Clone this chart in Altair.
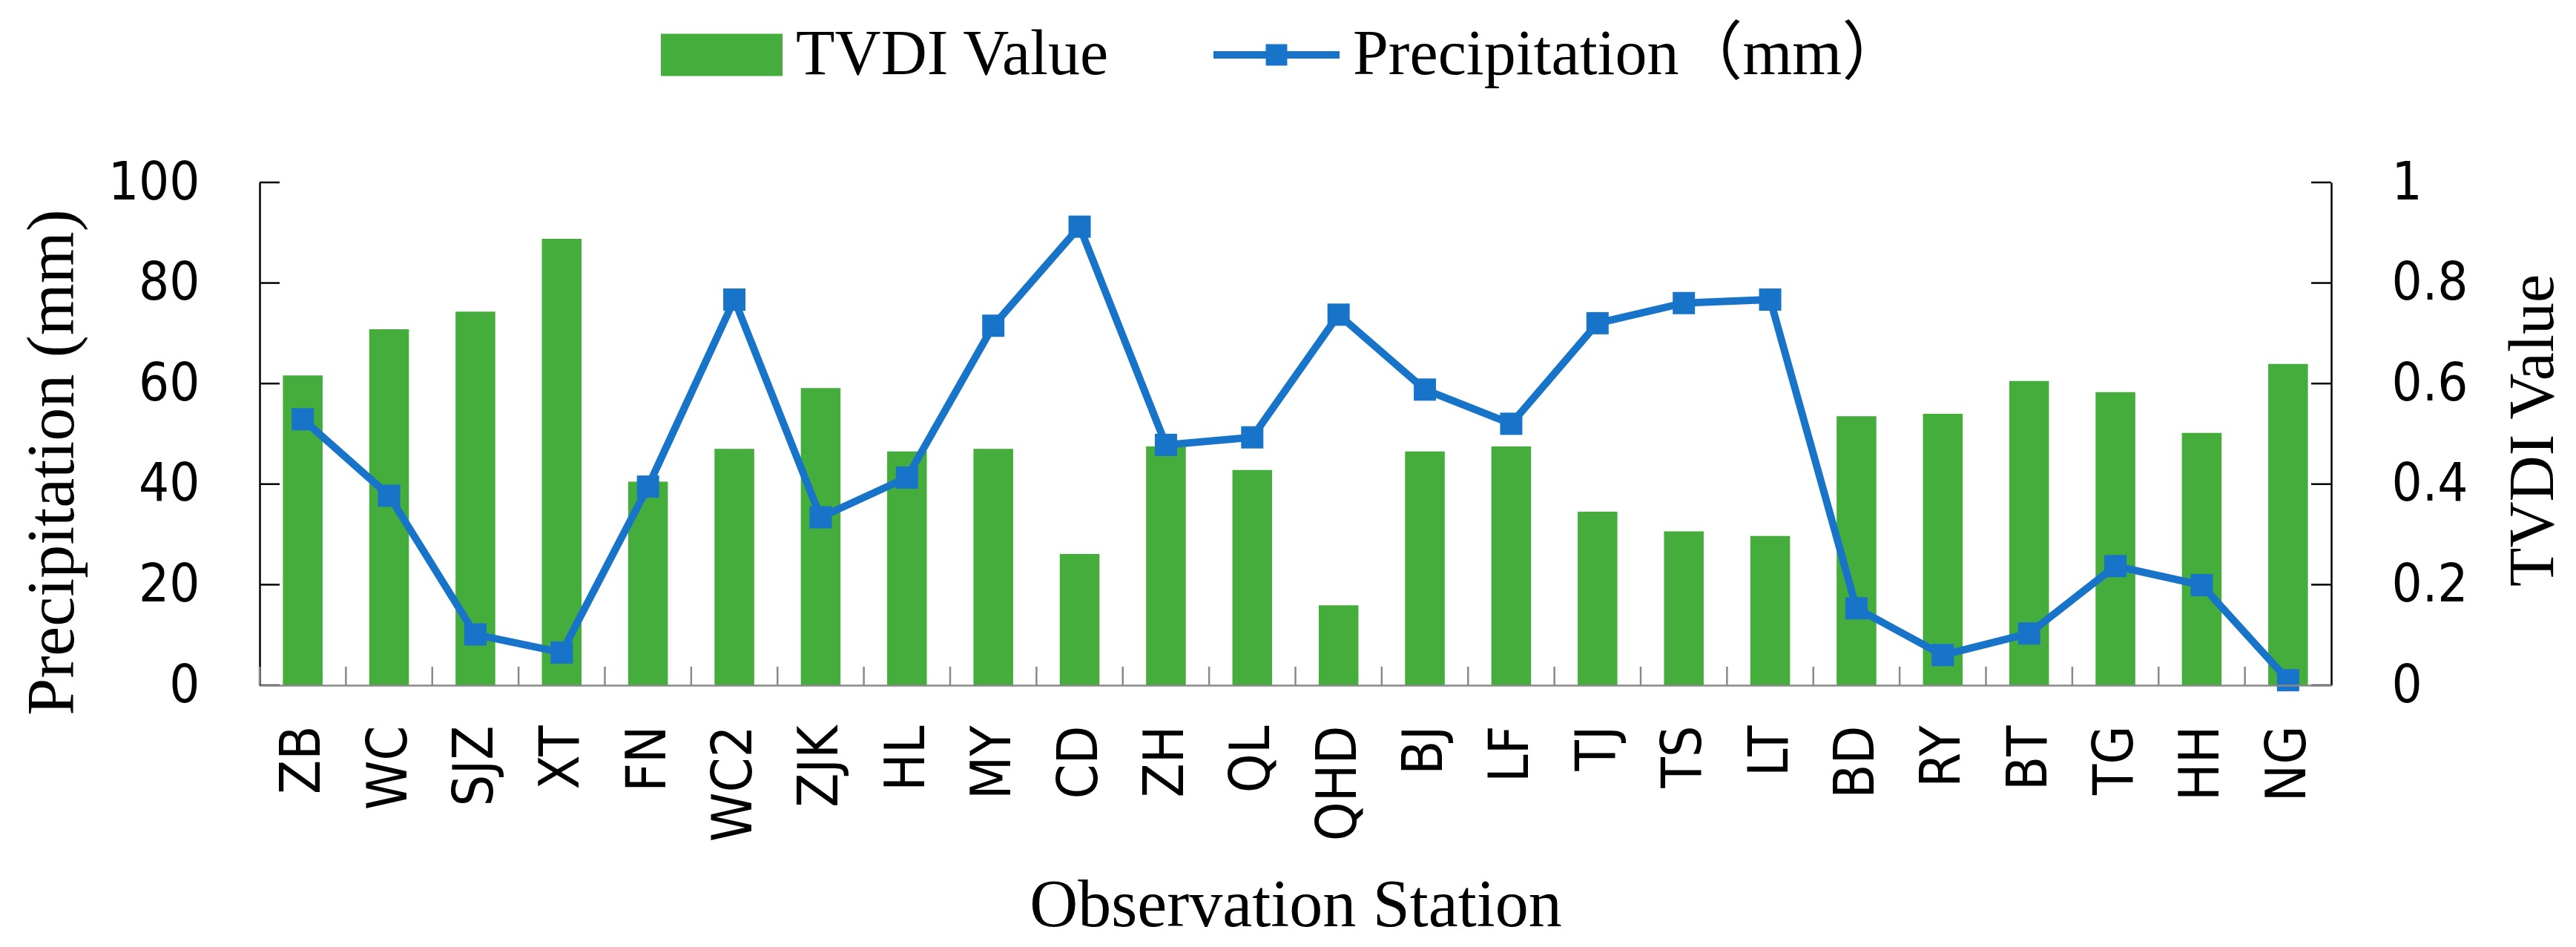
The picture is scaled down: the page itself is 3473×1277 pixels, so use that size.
import altair as alt
import pandas as pd

# ---- data ----
stations = ["ZB", "WC", "SJZ", "XT", "FN", "WC2", "ZJK", "HL", "MY", "CD", "ZH", "QL",
            "QHD", "BJ", "LF", "TJ", "TS", "LT", "BD", "RY", "BT", "TG", "HH", "NG"]
tvdi = [0.616, 0.708, 0.743, 0.888, 0.405, 0.470, 0.591, 0.465, 0.470, 0.261, 0.475, 0.428,
        0.159, 0.465, 0.475, 0.345, 0.306, 0.297, 0.535, 0.540, 0.605, 0.583, 0.502, 0.639]
precip = [52.9, 37.7, 10.1, 6.5, 39.5, 76.7, 33.4, 41.3, 71.5, 91.2, 47.8, 49.3,
          73.7, 58.8, 52.0, 72.0, 76.0, 76.7, 15.3, 6.0, 10.3, 23.7, 19.9, 1.0]
precip_ticks = [0, 20, 40, 60, 80, 100]
tvdi_ticks = [0, 0.2, 0.4, 0.6, 0.8, 1]
bar_name = "TVDI Value"
line_name = "Precipitation（mm）"

# ---- styles ----
GREEN = "#44AD3B"
BLUE = "#1874C9"
GRAY = "#898989"
SANS = "Liberation Sans Narrow, DejaVu Sans Condensed, Liberation Sans"
SERIF = "Liberation Serif, Noto Sans CJK SC"
W, H = 2793, 678
TICK_Y = 27
TICK_X = 25

df = pd.DataFrame({"station": stations, "tvdi": tvdi, "precip": precip,
                   "bar_series": bar_name, "line_series": line_name})
df_pt = pd.DataFrame({"v": precip_ticks})
df_tt = pd.DataFrame({"v": tvdi_ticks})

x_axis = alt.Axis(title="Observation Station", orient="bottom", ticks=False,
                  domainColor=GRAY, domainWidth=2.5, labelAngle=270,
                  labelFont=SANS, labelFontSize=75, labelColor="black",
                  labelPadding=54, labelLimit=1000, titleFont=SERIF,
                  titleFontSize=90, titleFontWeight="normal", titleColor="black",
                  titleBaseline="alphabetic", titleY=324, titleLimit=3000,
                  grid=False, zindex=1)
x_scale = alt.Scale(paddingInner=0, paddingOuter=0)


def xenc(**kw):
    return alt.X("station:N", sort=stations, scale=x_scale, axis=x_axis, **kw)


left_axis = alt.Axis(values=precip_ticks, title="Precipitation (mm)", orient="left",
                     ticks=False, domainColor="black", domainWidth=2.5,
                     labelFont=SANS, labelFontSize=72, labelColor="black",
                     labelPadding=81, titleFont=SERIF, titleFontSize=90,
                     titleFontWeight="normal", titleColor="black", titleAngle=270,
                     titleBaseline="alphabetic", titleX=-252, titleY=377,
                     titleLimit=3000, grid=False)
right_axis = alt.Axis(values=tvdi_ticks, format="~g", title="TVDI Value", orient="right",
                      ticks=False, domainColor="black", domainWidth=2.5,
                      labelFont=SANS, labelFontSize=72, labelColor="black",
                      labelPadding=81, titleFont=SERIF, titleFontSize=86,
                      titleFontWeight="normal", titleColor="black", titleAngle=270,
                      titleBaseline="alphabetic", titleX=298, titleY=334,
                      titleLimit=3000, grid=False)
p_scale = alt.Scale(domain=[0, 100], nice=False, zero=True)
t_scale = alt.Scale(domain=[0, 1], nice=False, zero=True)

RECT_PATH = "M-1,-0.3476L1,-0.3476L1,0.3476L-1,0.3476Z"
LINE_PATH = ("M-1,-0.06L1,-0.06L1,0.06L-1,0.06Z "
             "M-0.17,-0.17L0.17,-0.17L0.17,0.17L-0.17,0.17Z")

bars = alt.Chart(df).mark_bar(width={"band": 0.46}).encode(
    x=xenc(),
    y=alt.Y("tvdi:Q", scale=t_scale, axis=right_axis),
    color=alt.Color("bar_series:N",
                    scale=alt.Scale(domain=[bar_name], range=[GREEN]),
                    legend=alt.Legend(orient="none", legendX=541, legendY=-254,
                                      title=None, symbolType=RECT_PATH,
                                      symbolSize=164 * 164, symbolStrokeWidth=0,
                                      labelFont=SERIF, labelFontSize=86,
                                      labelColor="black", labelOffset=18,
                                      labelLimit=3000, padding=0)),
)
right_ticks = alt.Chart(df_tt).mark_rule(color="black", strokeWidth=2.5).encode(
    y=alt.Y("v:Q", scale=t_scale, axis=right_axis),
    x=alt.value(W - TICK_Y), x2=alt.value(W),
)
bar_group = alt.layer(bars, right_ticks)

line = alt.Chart(df).mark_line(color=BLUE, strokeWidth=10).encode(
    x=xenc(),
    y=alt.Y("precip:Q", scale=p_scale, axis=left_axis),
)
points = alt.Chart(df).mark_point(shape="square", filled=True, size=900, opacity=1).encode(
    x=xenc(),
    y=alt.Y("precip:Q", scale=p_scale, axis=left_axis),
    color=alt.Color("line_series:N",
                    scale=alt.Scale(domain=[line_name], range=[BLUE]),
                    legend=alt.Legend(orient="none", legendX=1286, legendY=-257,
                                      title=None, symbolType=LINE_PATH,
                                      symbolSize=170 * 170, symbolStrokeWidth=0,
                                      labelFont=SERIF, labelFontSize=86,
                                      labelColor="black", labelOffset=18,
                                      labelLimit=3000, padding=0)),
)
left_ticks = alt.Chart(df_pt).mark_rule(color="black", strokeWidth=2.5).encode(
    y=alt.Y("v:Q", scale=p_scale, axis=left_axis),
    x=alt.value(0), x2=alt.value(TICK_Y),
)
x_ticks = alt.Chart(df).mark_rule(color=GRAY, strokeWidth=2.5).encode(
    x=xenc(bandPosition=0),
    y=alt.value(H - TICK_X), y2=alt.value(H),
)
line_group = alt.layer(x_ticks, line, points, left_ticks)

chart = alt.layer(bar_group, line_group).resolve_scale(
    y="independent", color="independent"
).properties(
    width=W, height=H,
    autosize=alt.AutoSizeParams(type="none"),
    padding={"left": 342, "top": 238, "right": 322, "bottom": 345},
).configure_view(stroke=None)

chart.save("out.html", embed_options={"renderer": "svg", "actions": False})
